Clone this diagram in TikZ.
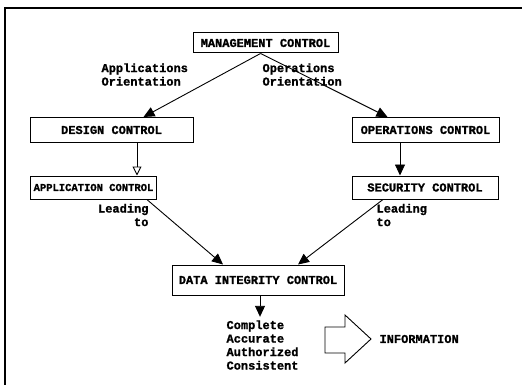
\documentclass[tikz,border=0pt]{standalone}
\usepackage{fontspec}
\setmainfont{Liberation Mono}[BoldFeatures={FakeBold=1.2}]
\usetikzlibrary{arrows.meta}

\tikzset{
  every node/.style={font=\bfseries\fontsize{12}{13.5}\selectfont},
  ctrlbox/.style={draw, line width=1pt, inner sep=3pt},
  flow/.style={line width=0.9pt, -{Triangle[length=11pt,width=10pt]}},
  openflow/.style={line width=0.9pt, -{Triangle[open,length=9pt,width=9pt]}}
}

\begin{document}
\begin{tikzpicture}[x=1pt,y=-1pt]
            \useasboundingbox (0,0) rectangle (527,385);
            \draw [line width=1.2pt](5,385) -- (5,8) -- (522,8);
            % boxes
            \node [ctrlbox, minimum width=145pt, minimum height=20pt] (mgmt) at (265.5,43) {MANAGEMENT CONTROL};
            \node [ctrlbox, minimum width=163pt, minimum height=25pt] (design) at (111.5,130) {DESIGN CONTROL};
            \node [ctrlbox, minimum width=147pt, minimum height=25pt] (ops) at (425.5,130) {OPERATIONS CONTROL};
            \node [ctrlbox, minimum width=123pt, minimum height=23pt, font=\bfseries\fontsize{10.5}{13.5}\selectfont] (app) at (93.5,187.5) {APPLICATION CONTROL};
            \node [ctrlbox, minimum width=146pt, minimum height=23pt] (sec) at (425,187.5) {SECURITY CONTROL};
            \node [ctrlbox, minimum width=172pt, minimum height=30pt] (data) at (258,280) {DATA INTEGRITY CONTROL};
            % labels
            \node [anchor=west, align=left] (apporient) at (98,74.5) {Applications\\Orientation};
            \node [anchor=west, align=left] (opsorient) at (259,74.5) {Operations\\Orientation};
            \node [anchor=east, align=right] (leadleft) at (152,215) {Leading\\to};
            \node [anchor=west, align=left] (leadright) at (373,215) {Leading\\to};
            \node [anchor=west, align=left] (quality) at (223,345) {Complete\\Accurate\\Authorized\\Consistent};
            \node [anchor=west] (info) at (376,339) {INFORMATION};
            % arrows
            \draw [flow] ([xshift=-5pt]mgmt.south) -- ([xshift=32pt]design.north);
            \draw [flow] ([xshift=-5pt]mgmt.south) -- ([xshift=-38pt]ops.north);
            \draw [openflow] ([xshift=25.5pt]design.south) -- ([xshift=25.5pt]design.south |- app.north);
            \draw [flow] ([xshift=-25.5pt]ops.south) -- ([xshift=-25.5pt]ops.south |- sec.north);
            \draw [flow] ([xshift=-10pt]app.south east) -- ([xshift=-35pt]data.north);
            \draw [flow] ([xshift=-42pt]sec.south) -- ([xshift=40pt]data.north);
            \draw [flow] ([xshift=2pt]data.south) -- ([xshift=2pt]data.south |- quality.north);
            % big arrow
            \draw [line width=0.9pt] (325,327) -- (345,327) -- (345,315) -- (371,339) -- (345,363) -- (345,353) -- (325,353) -- cycle;
        \end{tikzpicture}
\end{document}
